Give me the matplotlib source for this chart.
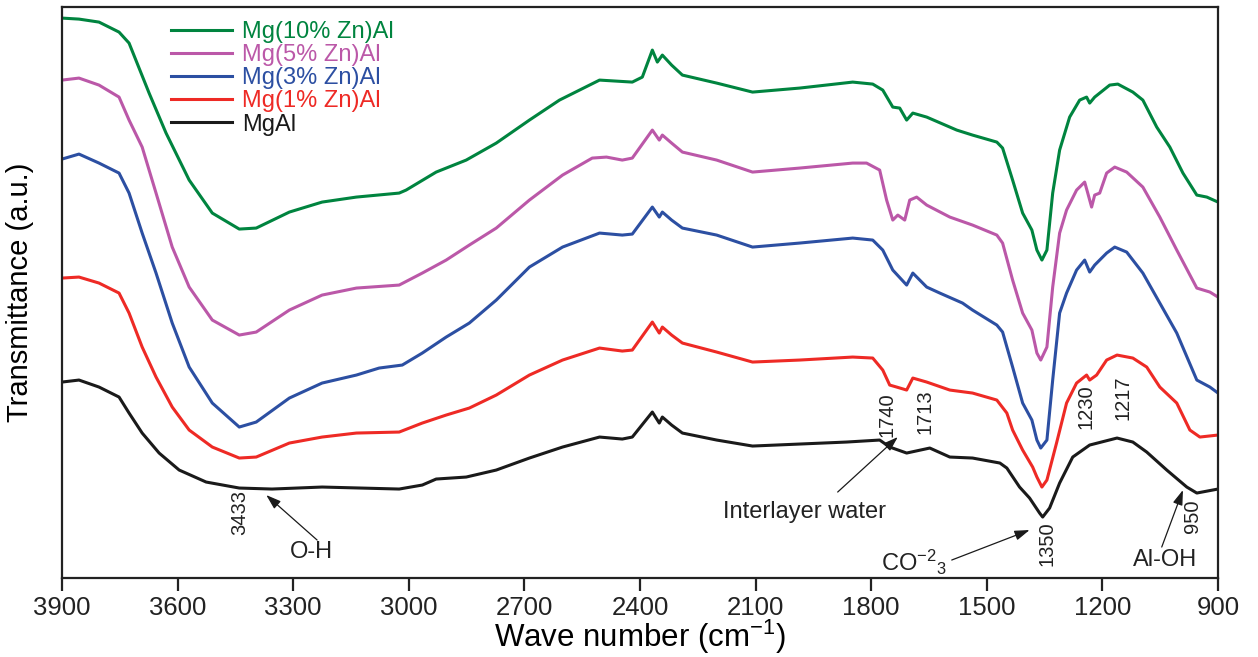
import matplotlib
matplotlib.use("Agg")
import matplotlib.pyplot as plt

# FTIR spectra of the Zn-doped MgAl LDH samples (transmittance, arbitrary units)
wn_10 = [3900, 3856, 3804, 3752, 3726, 3674, 3630, 3570, 3510, 3440, 3396, 3310, 3225, 3136, 3025,
         3007, 2929, 2851, 2773, 2687, 2609, 2505, 2420, 2394, 2368, 2355, 2342, 2318, 2290, 2201,
         2108, 1986, 1848, 1796, 1770, 1744, 1726, 1708, 1692, 1656, 1578, 1537, 1474, 1459, 1433,
         1407, 1383, 1370, 1357, 1344, 1329, 1311, 1285, 1259, 1241, 1233, 1220, 1181, 1160, 1121,
         1095, 1059, 1025, 991, 955, 929, 900]
t_10 = [560, 559, 556, 546, 535, 485, 445, 398, 365, 349, 350, 366, 376, 381, 385,
        388, 406, 418, 435, 458, 478, 498, 496, 501, 528, 516, 523, 513, 503, 495,
        486, 490, 496, 494, 488, 471, 470, 458, 465, 461, 448, 443, 436, 430, 398,
        365, 348, 328, 318, 328, 385, 428, 461, 478, 481, 475, 481, 493, 494, 486,
        478, 451, 431, 405, 383, 381, 376]

wn_5 = [3900, 3856, 3804, 3752, 3726, 3692, 3656, 3614, 3570, 3510, 3440, 3396, 3310, 3225, 3136,
        3025, 2965, 2903, 2843, 2773, 2687, 2601, 2524, 2487, 2446, 2420, 2368, 2350, 2342, 2318,
        2290, 2201, 2108, 1986, 1848, 1812, 1778, 1760, 1744, 1731, 1713, 1700, 1682, 1656, 1596,
        1537, 1474, 1459, 1433, 1407, 1383, 1370, 1360, 1344, 1329, 1311, 1293, 1267, 1246, 1238,
        1228, 1220, 1207, 1189, 1168, 1137, 1095, 1051, 1007, 955, 921, 900]
t_5 = [498, 500, 493, 481, 458, 431, 385, 331, 291, 258, 243, 246, 268, 283, 290,
       293, 305, 318, 333, 350, 378, 403, 420, 421, 418, 420, 448, 438, 443, 435,
       426, 418, 406, 410, 415, 415, 408, 378, 358, 363, 358, 378, 381, 373, 361,
       353, 343, 335, 298, 265, 248, 225, 218, 231, 291, 345, 368, 388, 396, 385,
       371, 383, 385, 405, 411, 406, 391, 361, 328, 290, 286, 281]

wn_3 = [3900, 3856, 3804, 3752, 3726, 3692, 3656, 3614, 3570, 3510, 3440, 3396, 3310, 3225, 3136,
        3077, 3017, 2965, 2903, 2843, 2773, 2687, 2601, 2505, 2446, 2420, 2368, 2350, 2342, 2318,
        2290, 2201, 2108, 1986, 1848, 1796, 1770, 1744, 1708, 1692, 1656, 1622, 1563, 1537, 1474,
        1459, 1433, 1407, 1383, 1370, 1360, 1344, 1329, 1311, 1293, 1267, 1246, 1233, 1220, 1189,
        1168, 1137, 1095, 1051, 1007, 955, 921, 900]
t_3 = [419, 424, 415, 405, 385, 345, 305, 255, 211, 175, 151, 156, 180, 195, 203,
       210, 213, 225, 241, 255, 278, 311, 331, 345, 343, 344, 371, 361, 366, 358,
       350, 343, 331, 335, 340, 338, 328, 308, 293, 305, 291, 285, 275, 268, 253,
       246, 211, 175, 158, 138, 130, 138, 198, 265, 285, 308, 318, 306, 313, 325,
       331, 326, 305, 275, 245, 198, 191, 185]

wn_1 = [3900, 3856, 3804, 3752, 3726, 3692, 3656, 3614, 3570, 3510, 3440, 3396, 3310, 3225, 3136,
        3025, 2965, 2903, 2843, 2773, 2687, 2601, 2505, 2446, 2420, 2368, 2350, 2342, 2318, 2290,
        2201, 2108, 1986, 1848, 1796, 1770, 1752, 1734, 1708, 1692, 1656, 1596, 1537, 1474, 1448,
        1433, 1407, 1381, 1370, 1357, 1344, 1319, 1293, 1267, 1241, 1233, 1215, 1189, 1162, 1121,
        1085, 1051, 1007, 973, 947, 900]
t_1 = [300, 301, 295, 285, 265, 231, 201, 171, 148, 131, 120, 121, 135, 141, 145,
       146, 155, 163, 170, 183, 203, 218, 230, 227, 228, 256, 245, 251, 243, 235,
       226, 216, 218, 221, 220, 208, 193, 191, 188, 200, 196, 188, 185, 178, 165,
       148, 128, 111, 101, 91, 98, 135, 175, 195, 203, 198, 203, 218, 223, 220,
       211, 191, 175, 148, 141, 143]

wn_0 = [3900, 3856, 3804, 3752, 3726, 3692, 3648, 3596, 3526, 3440, 3355, 3225, 3025, 2965, 2929,
        2851, 2773, 2687, 2601, 2505, 2446, 2420, 2368, 2350, 2342, 2318, 2290, 2201, 2108, 1986,
        1864, 1778, 1752, 1708, 1648, 1596, 1537, 1466, 1448, 1415, 1389, 1363, 1355, 1337, 1311,
        1277, 1233, 1162, 1121, 1085, 1033, 981, 955, 900]
t_0 = [196, 198, 191, 181, 165, 145, 125, 108, 96, 90, 89, 91, 89, 93, 99,
       101, 108, 120, 131, 141, 139, 141, 166, 155, 161, 153, 145, 138, 132, 134,
       136, 138, 131, 125, 130, 121, 120, 115, 110, 91, 80, 65, 61, 70, 95,
       121, 133, 140, 136, 126, 108, 91, 85, 89]

labels = ["Mg(10% Zn)Al", "Mg(5% Zn)Al", "Mg(3% Zn)Al", "Mg(1% Zn)Al", "MgAl"]
colors = ["#00843f", "#bb58a8", "#2c4fa2", "#ee2a25", "#1a1a1a"]
series = [(wn_10, t_10), (wn_5, t_5), (wn_3, t_3), (wn_1, t_1), (wn_0, t_0)]

x_ticks = [3900, 3600, 3300, 3000, 2700, 2400, 2100, 1800, 1500, 1200, 900]

# band positions written next to the peaks: (label, wavenumber, y)
band_labels = [("3433", 3440, 66), ("1740", 1760, 163), ("1713", 1661, 166),
               ("1230", 1243, 171), ("1217", 1147, 180), ("950", 965, 62),
               ("1350", 1344, 34)]

plt.rcParams["font.family"] = ["Liberation Sans", "DejaVu Sans"]
plt.rcParams["mathtext.default"] = "regular"
plt.rcParams["text.color"] = "#222222"

fig = plt.figure(figsize=(12.58, 6.57), dpi=100)
ax = fig.add_axes([0.0493, 0.1202, 0.9189, 0.869])

for (wn, t), lab, c in zip(series, labels, colors):
    ax.plot(wn, t, color=c, lw=2.2, label=lab, solid_joinstyle="round")

ax.set_xlim(3900, 900)
ax.set_ylim(0, 571)
ax.set_xticks(x_ticks)
ax.set_xticklabels([str(v) for v in x_ticks])
ax.set_yticks([])
ax.tick_params(axis="x", direction="out", length=9, width=1.6, labelsize=18.5, pad=4,
               colors="#222222")
for s in ax.spines.values():
    s.set_linewidth(1.6)
    s.set_color("#222222")

ax.set_xlabel("Wave number (cm$^{-1}$)", fontsize=22.5)
ax.xaxis.set_label_coords(0.5, -0.137)
ax.xaxis.label.set_verticalalignment("bottom")
ax.set_ylabel("Transmittance (a.u.)", fontsize=21)
ax.yaxis.set_label_coords(-0.024, 0.5)

leg = ax.legend(loc="upper left", bbox_to_anchor=(0.094, 0.976), frameon=False,
                handlelength=2.6, handletextpad=0.42, labelspacing=0.05, borderpad=0,
                borderaxespad=0, prop={"size": 17}, labelcolor="linecolor")

for txt, x, y in band_labels:
    ax.text(x, y, txt, rotation=90, ha="center", va="center", fontsize=14.5)

arrow = dict(arrowstyle="-|>,head_length=0.9,head_width=0.3", color="#1a1a1a", lw=0.9,
             shrinkA=0, shrinkB=0)
ax.annotate("", xy=(3370, 83), xytext=(3238, 38), arrowprops=arrow)
ax.text(3253, 26, "O-H", ha="center", va="center", fontsize=17)
ax.annotate("", xy=(1731, 141), xytext=(1887, 86), arrowprops=arrow)
ax.text(1973, 66, "Interlayer water", ha="center", va="center", fontsize=17)
ax.annotate("", xy=(1389, 48), xytext=(1591, 18), arrowprops=arrow)
ax.text(1690, 16, "CO$^{-2}$$_{3}$", ha="center", va="center", fontsize=17)
ax.annotate("", xy=(991, 88), xytext=(1046, 31), arrowprops=arrow)
ax.text(1038, 18, "Al-OH", ha="center", va="center", fontsize=17)

fig.savefig("out.png", dpi=100)
